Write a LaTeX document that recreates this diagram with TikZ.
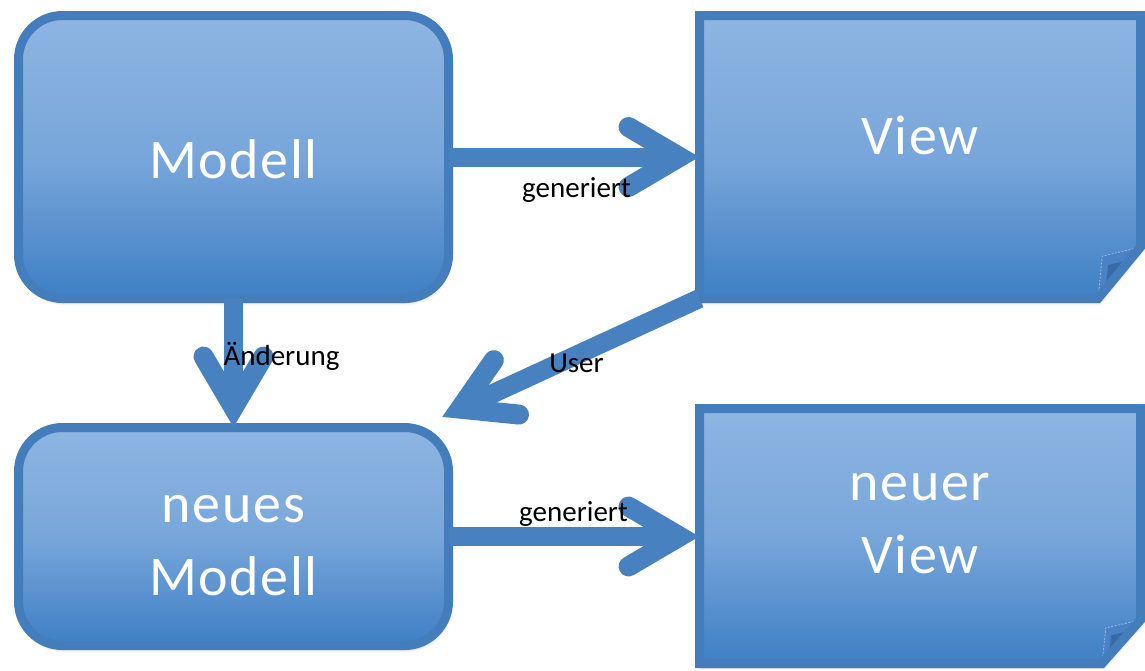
\documentclass[tikz,border=0pt]{standalone}
\usepackage{fontspec}
\setmainfont{Carlito}
\newfontfamily\widecarlito[LetterSpace=3]{Carlito}
\usetikzlibrary{calc,shadows.blur}

\definecolor{boxtop}{RGB}{142,181,226}
\definecolor{boxmid}{RGB}{120,166,218}
\definecolor{boxbot}{RGB}{62,127,196}
\definecolor{boxline}{RGB}{68,125,188}
\definecolor{arrowblue}{RGB}{72,129,191}
\definecolor{flapblue}{RGB}{74,131,197}
\definecolor{flapdark}{RGB}{56,106,168}

\tikzset{
  softshadow/.style={blur shadow={shadow xshift=1.5pt, shadow yshift=-4pt, shadow blur radius=3pt, shadow opacity=30}},
  gradfill/.style={top color=boxtop, bottom color=boxbot, middle color=boxmid},
  modelbox/.style={rectangle, rounded corners=44pt, draw=boxline, line width=9pt, gradfill, softshadow, inner sep=0pt, outer sep=0pt},
  panelframe/.style={rectangle, inner sep=0pt, outer sep=0pt},
  panelfill/.style={gradfill, softshadow},
  panelline/.style={draw=boxline, line width=9pt, line join=miter},
  flapfill/.style={fill=flapblue},
  flapedge/.style={draw=white, draw opacity=.45, line width=.8pt, dash pattern=on 2pt off 1.5pt},
  flapshade/.style={fill=flapdark},
  bigtext/.style={text=white, font=\widecarlito\fontsize{56}{73}\selectfont, align=center, anchor=base, inner sep=0pt},
  edgelabel/.style={text=black, font=\fontsize{29}{35}\selectfont, anchor=base, inner sep=0pt},
  arrowshadow/.style={preaction={draw=black, draw opacity=.18, transform canvas={shift={(1pt,-3pt)}}}},
  shaft/.style={draw=arrowblue, line width=19pt, line cap=butt, shorten >=20pt, arrowshadow},
  arrowhd/.style={draw=arrowblue, line width=20pt, line cap=round, line join=miter, arrowshadow},
}

% sheet with a turned-down lower right corner: #1 node, #2 vertical cut, #3 horizontal cut
\newcommand\foldedpanel[3]{%
  \path[panelfill] (#1.north west) -- (#1.north east) -- ($(#1.south east)+(0,-#2)$)
    -- ($(#1.south east)+(-#3,0)$) -- (#1.south west) -- cycle;
  \path[flapfill] ($(#1.south east)+(0,-#2)$) -- ($(#1.south east)+(-0.9*#3,-0.82*#2)$)
    -- ($(#1.south east)+(-#3,0)$) -- cycle;
  \path[flapshade] ($(#1.south east)+(-0.76*#3,-0.65*#2)$) -- ($(#1.south east)+(-0.29*#3,-0.75*#2)$)
    -- ($(#1.south east)+(-0.81*#3,-0.30*#2)$) -- cycle;
  \draw[flapedge] ($(#1.south east)+(0,-#2)$) -- ($(#1.south east)+(-0.9*#3,-0.82*#2)$)
    -- ($(#1.south east)+(-#3,0)$);
  \draw[panelline] (#1.north west) -- (#1.north east) -- ($(#1.south east)+(0,-#2)$)
    -- ($(#1.south east)+(-#3,0)$) -- (#1.south west) -- cycle;
}

% thick connector with an open chevron head: #1 start, #2 tip
\newcommand\flowarrow[2]{%
  \draw[shaft] (#1) -- (#2);
  \draw[arrowhd] let \p1=(#2), \p2=(#1), \n1={atan2(\y1-\y2,\x1-\x2)} in
    ($(\p1)+(\n1+157.1:77pt)$) -- ($(\p1)+(\n1+180:20pt)$) -- ($(\p1)+(\n1+202.9:77pt)$);
}

\begin{document}
\begin{tikzpicture}[x=1pt,y=-1pt]
\useasboundingbox (0,0) rectangle (1145,670);

% model boxes
\node[modelbox, minimum width=430pt, minimum height=283pt] (modell) at (233.5,157) {};
\node[modelbox, minimum width=430pt, minimum height=218pt] (nmodell) at (233.5,536.5) {};

% view sheets
\node[panelframe, minimum width=441pt, minimum height=283pt] (view) at (920,157) {};
\node[panelframe, minimum width=441pt, minimum height=255pt] (nview) at (920,536) {};
\foldedpanel{view}{51.5}{42.5}
\foldedpanel{nview}{43.5}{38.5}

% box captions (base anchor = baseline of the last line)
\node[bigtext] (modelltext) at (233.5,178) {Modell};
\node[bigtext] (viewtext) at (920,154) {View};
\node[bigtext] (nmodelltext) at (233.5,595) {neues\\Modell};
\node[bigtext] (nviewtext) at (920,573) {neuer\\View};

% connectors
\flowarrow{modell.east}{view.west}
\flowarrow{modell.south}{nmodell.north}
\flowarrow{view.south west}{$(nmodell.north east)+(-6.5,-10.5)$}
\flowarrow{nmodell.east}{nview.west |- nmodell.east}

% connector labels
\node[edgelabel] (gen1) at (576.5,197) {generiert};
\node[edgelabel] (chg) at (281.5,365) {Änderung};
\node[edgelabel] (usr) at (576.5,372) {User};
\node[edgelabel] (gen2) at (573.5,521) {generiert};
\end{tikzpicture}
\end{document}
